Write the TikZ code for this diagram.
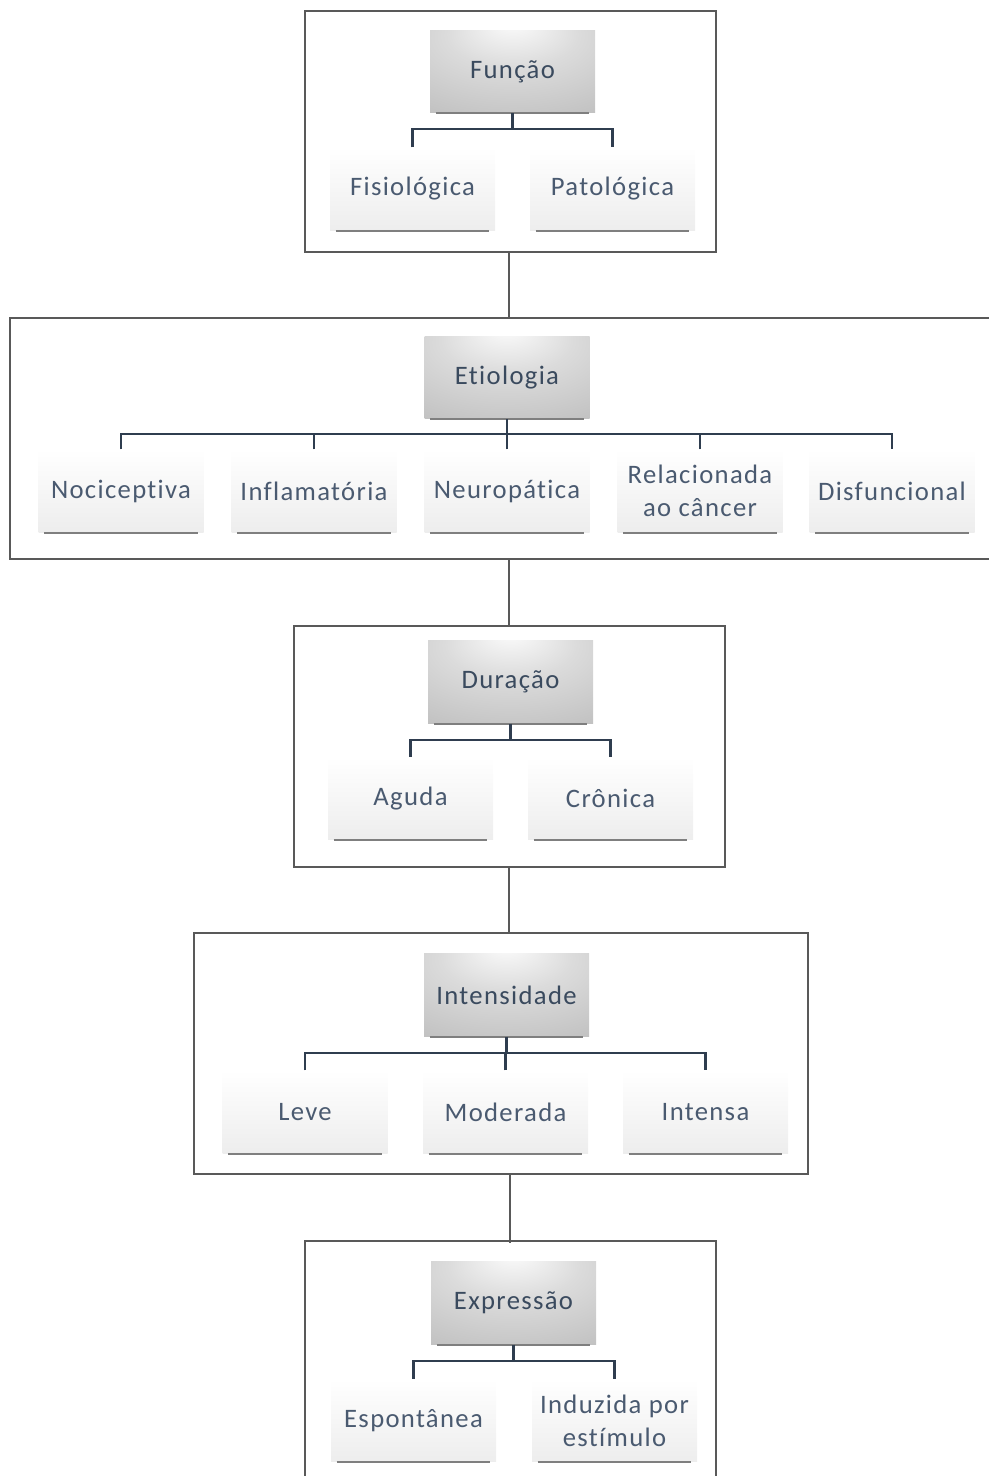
\documentclass[tikz,border=0pt]{standalone}
\usepackage{fontspec}
\setmainfont{Carlito}[LetterSpace=5, Ligatures=NoCommon]
\usetikzlibrary{calc}
\definecolor{txt}{HTML}{4A5A70}
\definecolor{htxt}{HTML}{3A4A5E}
\definecolor{frame}{HTML}{595959}
\definecolor{tree}{HTML}{2F3D4F}
\definecolor{shadowc}{HTML}{7F7F7F}
\pgfdeclareradialshading{hdrshade}{\pgfpoint{0bp}{30bp}}{color(0bp)=(white!97!gray); color(20bp)=(gray!28); color(45bp)=(gray!48); color(80bp)=(gray!62)}
\tikzset{
  outerbox/.style={draw=frame, line width=2.2pt},
  hdr/.style={shade, shading=hdrshade, minimum width=123.75pt, minimum height=62pt, inner sep=0pt, text=htxt, font=\fontsize{20}{24}\selectfont},
  child/.style={top color=white, middle color=white, bottom color=gray!14, minimum width=123.75pt, minimum height=62pt, inner sep=0pt, text=txt, align=center, font=\fontsize{20}{24.5}\selectfont},
  treeline/.style={draw=tree, line width=2.2pt},
  link/.style={draw=frame, line width=0.8pt},
  shadowline/.style={draw=shadowc, line width=1.6pt}
}
\begin{document}
\begin{tikzpicture}[x=0.75pt, y=-0.75pt]
\useasboundingbox (0,0) rectangle (988,1476);
% outer boxes
\path[outerbox] (305,11) rectangle (716,252);
\node[inner sep=0pt, minimum width=308.25pt, minimum height=180.75pt] (box1) at (510.5,131.5) {};
\draw[outerbox] (995,318) -- (10,318) -- (10,559) -- (995,559);
\node[inner sep=0pt, minimum width=735pt, minimum height=180.75pt] (box2) at (500,438.5) {};
\path[outerbox] (294,626) rectangle (725,867);
\node[inner sep=0pt, minimum width=323.25pt, minimum height=180.75pt] (box3) at (509.5,746.5) {};
\path[outerbox] (194,933) rectangle (808,1174);
\node[inner sep=0pt, minimum width=460.5pt, minimum height=180.75pt] (box4) at (501,1053.5) {};
\draw[outerbox] (305,1490) -- (305,1241) -- (716,1241) -- (716,1490);
\node[inner sep=0pt, minimum width=308.25pt, minimum height=10pt] (box5) at (510.5,1250) {};

% links between boxes
\draw[link] (box1.south -| 509,0) -- (box2.north -| 509,0);
\draw[link] (box2.south -| 509,0) -- (box3.north -| 509,0);
\draw[link] (box3.south -| 509,0) -- (box4.north -| 509,0);
\draw[link] (box4.south -| 510,0) -- (box5.north -| 510,0);

% ---- Group 1
\node[hdr] (h1) at (512.5,71.5) {Função};
\node[child] (c11) at (412.5,189) {Fisiológica};
\node[child] (c12) at (612.5,189) {Patológica};
\coordinate (b1) at (512,129);
% ---- Group 2
\node[hdr] (h2) at (507,377.5) {Etiologia};
\node[child] (c21) at (121,491) {Nociceptiva};
\node[child] (c22) at (314,491) {Inflamatória};
\node[child] (c23) at (507,491) {Neuropática};
\node[child] (c24) at (700,491) {Relacionada\\ao câncer};
\node[child] (c25) at (892,491) {Disfuncional};
\coordinate (b2) at (507,434);
% ---- Group 3
\node[hdr] (h3) at (510.5,682) {Duração};
\node[child] (c31) at (410.5,798.5) {Aguda};
\node[child] (c32) at (610.5,798.5) {Crônica};
\coordinate (b3) at (510,740);
% ---- Group 4
\node[hdr] (h4) at (506.5,995) {Intensidade};
\node[child] (c41) at (305,1112) {Leve};
\node[child] (c42) at (505.5,1112) {Moderada};
\node[child] (c43) at (705.5,1112) {Intensa};
\coordinate (b4) at (506,1053);
% ---- Group 5
\node[hdr] (h5) at (513.5,1303) {Expressão};
\node[child] (c51) at (413.5,1420.5) {Espontânea};
\node[child] (c52) at (614.5,1420.5) {Induzida por\\estímulo};
\coordinate (b5) at (513,1361);

% shadow lines under boxes
\foreach \n in {h1,h2,h3,h4,h5,c11,c12,c21,c22,c23,c24,c25,c31,c32,c41,c42,c43,c51,c52}{
  \draw[shadowline] ([xshift=4.5pt]\n.south west) -- ([xshift=-4.5pt]\n.south east);
}

% tree connectors
\draw[treeline] (h1.south) -- (h1.south |- b1);
\draw[treeline] (c11.north) -- (c11.north |- b1) -- (c12.north |- b1) -- (c12.north);
\draw[treeline] (h2.south) -- (h2.south |- b2);
\draw[treeline] (c21.north) -- (c21.north |- b2) -- (c25.north |- b2) -- (c25.north);
\draw[treeline] (c22.north) -- (c22.north |- b2);
\draw[treeline] (c23.north) -- (c23.north |- b2);
\draw[treeline] (c24.north) -- (c24.north |- b2);
\draw[treeline] (h3.south) -- (h3.south |- b3);
\draw[treeline] (c31.north) -- (c31.north |- b3) -- (c32.north |- b3) -- (c32.north);
\draw[treeline] (h4.south) -- (h4.south |- b4);
\draw[treeline] (c41.north) -- (c41.north |- b4) -- (c43.north |- b4) -- (c43.north);
\draw[treeline] (c42.north) -- (c42.north |- b4);
\draw[treeline] (h5.south) -- (h5.south |- b5);
\draw[treeline] (c51.north) -- (c51.north |- b5) -- (c52.north |- b5) -- (c52.north);
\end{tikzpicture}
\end{document}
